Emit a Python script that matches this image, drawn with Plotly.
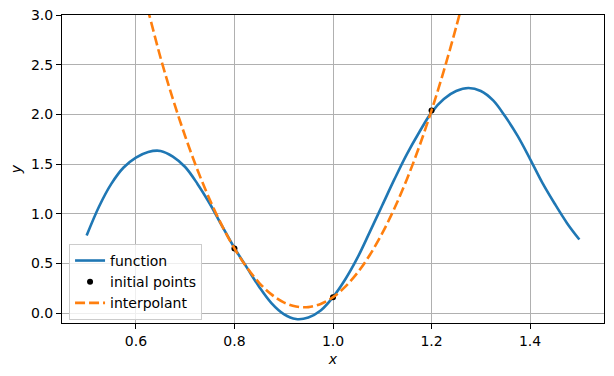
import plotly.graph_objects as go

# function curve
func_x = [0.500, 0.525, 0.550, 0.575, 0.600, 0.625, 0.650, 0.675, 0.700, 0.725,
          0.750, 0.775, 0.800, 0.825, 0.850, 0.875, 0.900, 0.925, 0.950, 0.975,
          1.000, 1.025, 1.050, 1.075, 1.100, 1.125, 1.150, 1.175, 1.200, 1.225,
          1.250, 1.275, 1.300, 1.325, 1.350, 1.375, 1.400, 1.425, 1.450, 1.475, 1.500]
func_y = [0.78, 1.07, 1.30, 1.465, 1.565, 1.622, 1.632, 1.575, 1.47, 1.30,
          1.10, 0.875, 0.655, 0.46, 0.265, 0.10, -0.01, -0.06, -0.045, 0.025,
          0.16, 0.34, 0.56, 0.82, 1.085, 1.35, 1.60, 1.82, 2.02, 2.155,
          2.235, 2.265, 2.235, 2.14, 1.975, 1.78, 1.55, 1.31, 1.10, 0.905, 0.74]

# initial points
pts_x = [0.8, 1.0, 1.2]
pts_y = [0.65, 0.16, 2.04]

# interpolant
interp_x = [0.615, 0.627, 0.650, 0.675, 0.700, 0.725, 0.750, 0.775, 0.800, 0.825,
            0.850, 0.875, 0.900, 0.925, 0.950, 0.975, 1.000, 1.025, 1.050, 1.075,
            1.100, 1.125, 1.150, 1.175, 1.200, 1.225, 1.250, 1.265]
interp_y = [3.20, 3.00, 2.57, 2.155, 1.78, 1.44, 1.14, 0.877, 0.65, 0.46,
            0.305, 0.188, 0.108, 0.066, 0.06, 0.092, 0.16, 0.266, 0.408, 0.587,
            0.804, 1.057, 1.347, 1.675, 2.04, 2.44, 2.88, 3.16]

x_ticks = [0.6, 0.8, 1.0, 1.2, 1.4]
x_tick_labels = ["0.6", "0.8", "1.0", "1.2", "1.4"]
y_ticks = [0.0, 0.5, 1.0, 1.5, 2.0, 2.5, 3.0]
y_tick_labels = ["0.0", "0.5", "1.0", "1.5", "2.0", "2.5", "3.0"]

FONT = "DejaVu Sans"

fig = go.Figure()
fig.add_trace(go.Scatter(
    x=func_x, y=func_y, mode="lines", name="function",
    line=dict(color="#1f77b4", width=2.6, shape="spline", smoothing=1.0),
))
fig.add_trace(go.Scatter(
    x=pts_x, y=pts_y, mode="markers", name="initial points",
    marker=dict(color="black", size=6),
))
fig.add_trace(go.Scatter(
    x=interp_x, y=interp_y, mode="lines", name="interpolant",
    line=dict(color="#ff7f0e", width=2.6, dash="10px,4px", shape="spline", smoothing=1.0),
))

axis_common = dict(
    showline=True, linecolor="black", linewidth=1, mirror=True,
    ticks="outside", ticklen=5, tickwidth=1, tickcolor="black",
    showgrid=True, gridcolor="#b0b0b0", gridwidth=1,
    zeroline=False, automargin=False, ticklabeloverflow="allow",
    tickfont=dict(family=FONT, size=14, color="black"),
)

fig.update_xaxes(
    range=[0.45, 1.55], tickvals=x_ticks, ticktext=x_tick_labels,
    title=dict(text="x", font=dict(family=FONT, size=14, color="black", style="italic"), standoff=6),
    **axis_common,
)
fig.update_yaxes(
    range=[-0.1, 3.0], tickvals=y_ticks, ticktext=y_tick_labels,
    title=dict(text="y", font=dict(family=FONT, size=14, color="black", style="italic"), standoff=10),
    **axis_common,
)

# page body has an 8px margin, so the figure is sized/margined to compensate
fig.update_layout(
    width=606, height=368,
    margin=dict(l=54, r=10, t=7, b=53),
    paper_bgcolor="white", plot_bgcolor="white",
    font=dict(family=FONT, size=14, color="black"),
    legend=dict(
        x=0.013, y=0.01, xanchor="left", yanchor="bottom",
        bgcolor="rgba(255,255,255,0.8)", bordercolor="#cccccc", borderwidth=1,
        font=dict(family=FONT, size=14, color="black"),
        itemwidth=30, tracegroupgap=0,
    ),
    showlegend=True,
)

fig.write_html("out.html")
